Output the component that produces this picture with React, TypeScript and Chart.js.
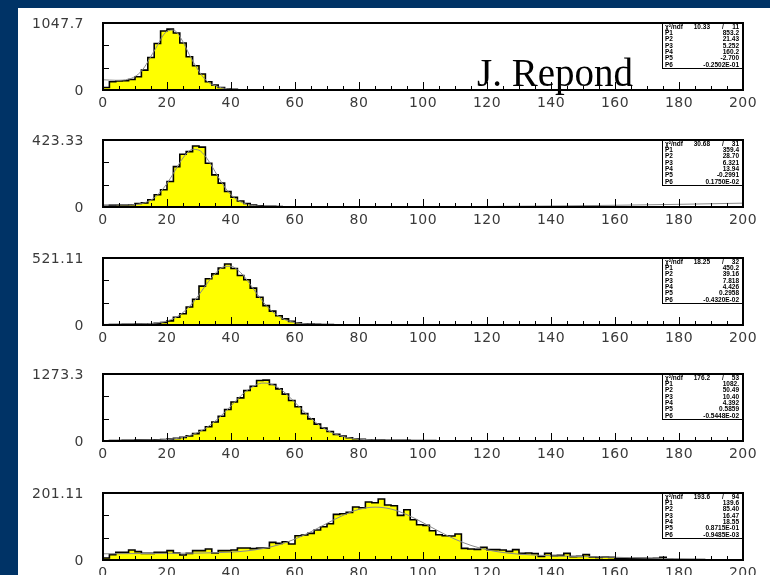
import React, { useEffect, useRef } from "react";
import { Chart, registerables } from "chart.js";

Chart.register(...registerables);

// ---------- data ----------
const BIN_WIDTH = 2;
const X_MIN = 0;
const X_MAX = 200;
const X_TICK_STEP = 20;

const yMaxLabels = [1047.7, 423.33, 521.11, 1273.3, 201.11];

const counts1 = [
  40, 130, 140, 145, 165, 207, 311, 508, 726, 923,
  952, 892, 735, 520, 380, 250, 130, 78, 40, 20,
  10, 5, 3, 2, 1, 1, 0, 0, 0, 0,
  0, 0, 0, 0, 0, 0, 0, 0, 0, 0,
  0, 0, 0, 0, 0, 0, 0, 0, 0, 0,
  0, 0, 0, 0, 0, 0, 0, 0, 0, 0,
  0, 0, 0, 0, 0, 0, 0, 0, 0, 0,
  0, 0, 0, 0, 0, 0, 0, 0, 0, 0,
  0, 0, 0, 0, 0, 0, 0, 0, 0, 0,
  0, 0, 0, 0, 0, 0, 0, 0, 0, 0,
];
const counts2 = [
  5, 12, 13, 13, 14, 22, 26, 46, 77, 109,
  161, 255, 333, 350, 385, 378, 276, 203, 151, 98,
  62, 38, 22, 13, 8, 5, 4, 3, 2, 2,
  1, 1, 1, 1, 0, 1, 0, 0, 1, 0,
  0, 0, 0, 0, 0, 0, 0, 0, 0, 0,
  0, 0, 0, 0, 0, 0, 0, 0, 0, 0,
  0, 0, 0, 0, 0, 0, 0, 0, 0, 0,
  0, 0, 0, 0, 0, 0, 0, 0, 0, 0,
  0, 0, 0, 0, 0, 0, 0, 0, 0, 0,
  0, 0, 0, 0, 0, 0, 0, 0, 0, 0,
];
const counts3 = [
  2, 3, 4, 5, 6, 7, 8, 10, 14, 20,
  32, 60, 88, 140, 200, 302, 360, 398, 443, 474,
  440, 385, 352, 287, 216, 151, 108, 72, 48, 28,
  17, 10, 7, 5, 4, 3, 2, 2, 1, 1,
  1, 0, 0, 0, 0, 0, 0, 0, 0, 0,
  0, 0, 0, 0, 0, 0, 0, 0, 0, 0,
  0, 0, 0, 0, 0, 0, 0, 0, 0, 0,
  0, 0, 0, 0, 0, 0, 0, 0, 0, 0,
  0, 0, 0, 0, 0, 0, 0, 0, 0, 0,
  0, 0, 0, 0, 0, 0, 0, 0, 0, 0,
];
const counts4 = [
  5, 8, 10, 12, 14, 16, 18, 20, 22, 28,
  36, 50, 68, 98, 140, 200, 270, 360, 470, 600,
  740, 820, 960, 1040, 1150, 1157, 1075, 990, 890, 770,
  650, 520, 420, 320, 245, 180, 125, 92, 62, 44,
  32, 25, 20, 16, 14, 13, 12, 11, 10, 9,
  8, 7, 6, 5, 4, 3, 3, 2, 2, 1,
  1, 1, 0, 0, 0, 0, 0, 0, 0, 0,
  0, 0, 0, 0, 0, 0, 0, 0, 0, 0,
  0, 0, 0, 0, 0, 0, 0, 0, 0, 0,
  0, 0, 0, 0, 0, 0, 0, 0, 0, 0,
];
const counts5 = [
  6, 16, 23, 23, 30, 25, 20, 20, 23, 23,
  28, 21, 15, 20, 28, 28, 33, 21, 28, 28,
  30, 36, 36, 34, 36, 36, 53, 50, 55, 48,
  73, 75, 80, 90, 100, 109, 137, 139, 143, 159,
  157, 174, 172, 183, 165, 163, 134, 151, 121, 106,
  104, 88, 76, 73, 72, 78, 35, 33, 32, 38,
  31, 31, 30, 26, 31, 20, 21, 19, 11, 20,
  13, 14, 20, 10, 11, 16, 9, 8, 9, 8,
  5, 5, 4, 5, 5, 4, 5, 8, 2, 1,
  1, 1, 1, 1, 0, 0, 0, 0, 0, 0,
];

const fit1X = [0, 4, 8, 12, 16, 20, 22, 24, 28, 32, 36, 40, 42];
const fit1Y = [160, 152, 169, 295, 611, 918, 937, 838, 456, 160, 49, 14, 3];
const fit2X = [0, 4, 8, 12, 16, 20, 22, 24, 26, 28, 30, 32, 34, 36, 38, 40, 44, 48, 52, 60, 80, 100, 120, 140, 160, 180, 200];
const fit2Y = [14, 13, 13.5, 21.6, 57, 148, 213, 280, 335, 364, 359, 320, 259, 190, 127, 77, 23, 7, 3.5, 2.3, 1.2, 1.6, 3.3, 6.4, 10.9, 16.9, 24.2];
const fit3X = [0, 8, 12, 16, 20, 24, 28, 30, 32, 34, 36, 38, 40, 42, 44, 46, 48, 50, 52, 56, 60, 64, 70, 80, 82];
const fit3Y = [4.4, 6.6, 8.4, 13.6, 31, 78, 171, 236, 305, 371, 424, 455, 457, 430, 381, 316, 246, 181, 125, 52, 19.4, 8.5, 3.9, 0.5, 0];
const fit4X = [0, 10, 16, 20, 24, 28, 32, 36, 40, 44, 48, 50, 52, 56, 60, 64, 68, 72, 76, 80, 84, 90, 100, 110, 116];
const fit4Y = [4.4, 10.3, 16.8, 28.6, 57, 122, 240, 428, 669, 910, 1071, 1101, 1091, 960, 732, 486, 282, 146, 71, 35.7, 21, 14, 8.5, 3, 0];
const fit5X = [0, 10, 20, 30, 40, 45, 50, 55, 60, 65, 70, 75, 80, 85, 90, 95, 100, 105, 110, 115, 120, 125, 130, 140, 150, 160, 170, 180, 190, 198];
const fit5Y = [18.6, 19.3, 20, 20.8, 23.6, 27.4, 34.4, 45.9, 62.9, 85, 110, 134, 152, 158.7, 153, 136, 112, 86, 62.4, 43.8, 30.7, 22.5, 17.6, 12.8, 10.3, 8.2, 5.9, 3.5, 0.8, 0];

const statLabels = ["\u03c7\u00b2/ndf", "P1", "P2", "P3", "P4", "P5", "P6"];
const chi2Values = ["10.33", "30.68", "18.25", "176.2", "193.6"];
const ndfValues = ["11", "31", "32", "53", "94"];
const params1 = ["853.2", "21.43", "5.252", "160.2", "-2.700", "-0.2502E-01"];
const params2 = ["359.4", "28.70", "6.321", "13.94", "-0.2991", "0.1750E-02"];
const params3 = ["450.2", "39.16", "7.818", "4.426", "0.2958", "-0.4320E-02"];
const params4 = ["1082.", "50.49", "10.40", "4.392", "0.5859", "-0.5448E-02"];
const params5 = ["139.6", "85.40", "16.47", "18.55", "0.8715E-01", "-0.9485E-03"];

const allCounts = [counts1, counts2, counts3, counts4, counts5];
const allFitX = [fit1X, fit2X, fit3X, fit4X, fit5X];
const allFitY = [fit1Y, fit2Y, fit3Y, fit4Y, fit5Y];
const allParams = [params1, params2, params3, params4, params5];

// ---------- layout ----------
const FRAME_TOPS = [23, 140, 258, 374, 493];
const PAD_TOP = 12;
const FRAME_H = 67;
const XAXIS_H = 22;
const CANVAS_H = PAD_TOP + FRAME_H + XAXIS_H;
const W = 770;
const FRAME_LEFT = 103;
const FRAME_RIGHT = 743;
const LABEL_FONT = { family: "'DejaVu Sans', sans-serif", size: 14 };

function overlayPlugin(idx: number) {
  return {
    id: "rootOverlay" + idx,
    beforeDraw(chart: any) {
      chart.ctx.letterSpacing = "0.5px";
    },
    afterDraw(chart: any) {
      const ctx = chart.ctx as CanvasRenderingContext2D;
      const { left, top, right, bottom } = chart.chartArea;
      const xs = chart.scales.x;
      const ys = chart.scales.y;
      ctx.save();
      (ctx as any).letterSpacing = "0px";
      ctx.strokeStyle = "#000";
      ctx.lineWidth = 1;
      // x ticks inside frame
      for (let v = X_MIN; v <= X_MAX; v += 5) {
        const px = Math.round(xs.getPixelForValue(v)) + 0.5;
        const len = v % X_TICK_STEP === 0 ? 8 : 4;
        ctx.beginPath();
        ctx.moveTo(px, bottom);
        ctx.lineTo(px, bottom - len);
        ctx.stroke();
      }
      // y ticks
      for (let k = 1; k <= 2; k++) {
        const py = Math.round(ys.getPixelForValue((ys.max * k) / 3)) + 0.5;
        ctx.beginPath();
        ctx.moveTo(left, py);
        ctx.lineTo(left + 6, py);
        ctx.stroke();
      }
      // stats box
      const bw = 81;
      const bh = 46;
      const bx = right - bw;
      const by = top;
      ctx.fillStyle = "#fff";
      ctx.fillRect(bx, by, bw, bh);
      ctx.strokeRect(bx + 0.5, by + 0.5, bw - 1, bh - 1);
      ctx.fillStyle = "#000";
      ctx.font = "bold 6.5px 'Liberation Sans', sans-serif";
      ctx.textBaseline = "middle";
      const params = allParams[idx];
      statLabels.forEach((lab, i) => {
        const y = by + 4 + i * 6.3;
        ctx.textAlign = "left";
        ctx.fillText(lab, bx + 3, y);
        if (i === 0) {
          ctx.textAlign = "right";
          ctx.fillText(chi2Values[idx], bx + 48, y);
          ctx.textAlign = "center";
          ctx.fillText("/", bx + 61, y);
          ctx.textAlign = "right";
          ctx.fillText(ndfValues[idx], right - 4, y);
        } else {
          ctx.textAlign = "right";
          ctx.fillText(params[i - 1], right - 4, y);
        }
      });
      // frame
      ctx.lineWidth = 2;
      ctx.strokeRect(left, top, right - left, bottom - top);
      ctx.restore();
    },
  };
}

function buildChart(canvas: HTMLCanvasElement, idx: number) {
  const counts = allCounts[idx];
  const yMax = yMaxLabels[idx];
  const hist = [{ x: X_MIN, y: 0 }]
    .concat(counts.map((c, i) => ({ x: X_MIN + i * BIN_WIDTH, y: c })))
    .concat([{ x: X_MIN + counts.length * BIN_WIDTH, y: 0 }]);
  const fit = allFitX[idx].map((x, i) => ({ x, y: allFitY[idx][i] }));

  return new Chart(canvas, {
    type: "line",
    data: {
      datasets: [
        {
          label: "fit",
          data: fit,
          borderColor: "#8a8a8a",
          borderWidth: 1,
          pointRadius: 0,
          cubicInterpolationMode: "monotone",
          fill: false,
          order: 0,
        } as any,
        {
          label: "hist",
          data: hist,
          stepped: "before",
          borderColor: "#000",
          borderWidth: 1.6,
          backgroundColor: "#ffff00",
          fill: "origin",
          pointRadius: 0,
          order: 1,
        } as any,
      ],
    },
    options: {
      animation: false,
      responsive: false,
      events: [],
      layout: {
        padding: { top: PAD_TOP, right: W - FRAME_RIGHT, left: 0, bottom: 0 },
        autoPadding: false,
      } as any,
      plugins: {
        legend: { display: false },
        tooltip: { enabled: false },
      },
      scales: {
        x: {
          type: "linear",
          min: X_MIN,
          max: X_MAX,
          grid: { display: false, drawTicks: false },
          border: { display: false },
          ticks: {
            stepSize: X_TICK_STEP,
            color: "#3a3a3a",
            font: LABEL_FONT,
            padding: 5,
            maxRotation: 0,
            autoSkip: false,
          },
          afterFit: (s: any) => {
            s.height = XAXIS_H;
            s.paddingLeft = 0;
            s.paddingRight = 0;
            s.paddingTop = 0;
            s.paddingBottom = 0;
          },
        },
        y: {
          type: "linear",
          min: 0,
          max: yMax,
          grid: { display: false, drawTicks: false },
          border: { display: false },
          afterBuildTicks: (s: any) => {
            s.ticks = [{ value: 0 }, { value: yMax }];
          },
          ticks: {
            color: "#3a3a3a",
            font: LABEL_FONT,
            padding: 19,
            labelOffset: 1.5,
            callback: (v: any) => String(v),
          },
          afterFit: (s: any) => {
            s.width = FRAME_LEFT;
            s.paddingLeft = 0;
            s.paddingRight = 0;
            s.paddingTop = 0;
            s.paddingBottom = 0;
          },
        },
      },
    } as any,
    plugins: [overlayPlugin(idx)],
  });
}

export default function App() {
  const refs = useRef<(HTMLCanvasElement | null)[]>([]);

  useEffect(() => {
    const charts = refs.current.map((c, i) => (c ? buildChart(c, i) : null));
    return () => {
      charts.forEach((ch) => ch && ch.destroy());
    };
  }, []);

  return (
    <div
      style={{
        position: "fixed",
        left: 0,
        top: 0,
        width: W,
        height: 575,
        background: "#003366",
        overflow: "hidden",
      }}
    >
      <div
        style={{
          position: "absolute",
          left: 18,
          top: 8,
          width: W - 18,
          height: 575 - 8,
          background: "#fff",
        }}
      />
      {FRAME_TOPS.map((t, i) => (
        <canvas
          key={i}
          ref={(el) => {
            refs.current[i] = el;
          }}
          width={W}
          height={CANVAS_H}
          style={{
            position: "absolute",
            left: 0,
            top: t - PAD_TOP,
            width: W,
            height: CANVAS_H,
          }}
        />
      ))}
      <div
        style={{
          position: "absolute",
          left: 477,
          top: 53,
          fontFamily: "'Liberation Serif', 'Times New Roman', serif",
          fontSize: 39,
          lineHeight: 1,
          color: "#000",
          whiteSpace: "nowrap",
          zIndex: 2,
        }}
      >
        J. Repond
      </div>
    </div>
  );
}
